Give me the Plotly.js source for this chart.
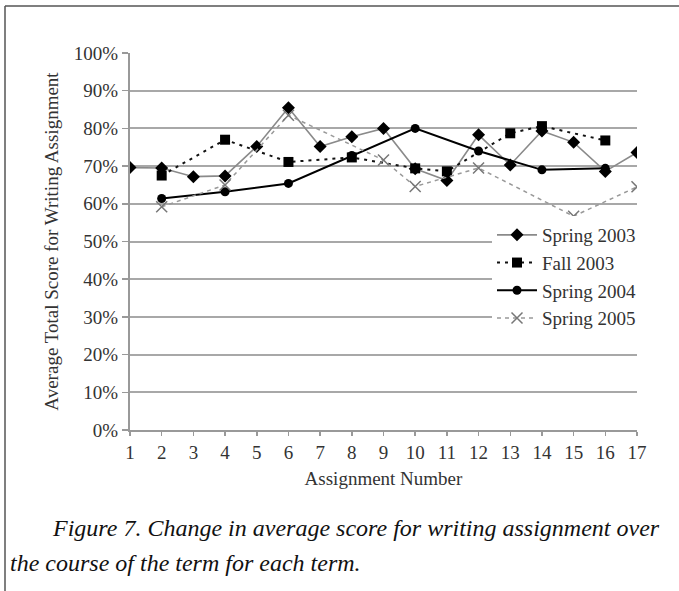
<!DOCTYPE html>
<html>
<head>
<meta charset="utf-8">
<script src="https://cdn.plot.ly/plotly-3.0.1.min.js"></script>
<style>
html,body{margin:0;padding:0;background:#fff;}
#chart{width:679px;height:591px;}
</style>
</head>
<body>
<div id="chart"></div>
<script>
// Data
const assignments = [1,2,3,4,5,6,7,8,9,10,11,12,13,14,15,16,17];
const spring2003 = [0.696,0.695,0.672,0.674,0.752,0.855,0.752,0.778,0.800,0.693,0.662,0.783,0.703,0.793,0.763,0.686,0.736];
const fall2003   = [null,0.675,null,0.770,null,0.711,null,0.723,null,0.694,0.686,null,0.787,0.806,null,0.768,null];
const spring2004 = [null,0.614,null,0.632,null,0.654,null,0.728,null,0.800,null,0.740,null,0.690,null,0.694,null];
const spring2005 = [null,0.592,null,0.650,null,0.835,null,null,0.716,0.646,null,0.695,null,null,0.567,null,0.645];
const seriesNames = ["Spring 2003","Fall 2003","Spring 2004","Spring 2005"];
const yTickVals = [0,0.1,0.2,0.3,0.4,0.5,0.6,0.7,0.8,0.9,1.0];
const yTickText = ["0%","10%","20%","30%","40%","50%","60%","70%","80%","90%","100%"];
const captionLine1 = "Figure 7. Change in average score for writing assignment over";
const captionLine2 = "the course of the term for each term.";

const W = 679, H = 591;
const M = {l:130, r:42, t:53, b:161};
const pw = W - M.l - M.r, ph = H - M.t - M.b;
const px = x => (x - M.l) / pw;
const py = y => (H - M.b - y) / ph;

const serif = "Liberation Serif, Times New Roman, serif";

const traces = [
  {x: assignments, y: spring2003, name: seriesNames[0], mode: "lines+markers", connectgaps: true,
   line: {color: "#8a8a8a", width: 1.6},
   marker: {symbol: "diamond", size: 10, color: "#000"}},
  {x: assignments, y: fall2003, name: seriesNames[1], mode: "lines+markers", connectgaps: true,
   line: {color: "#111", width: 2, dash: "3px,5px"},
   marker: {symbol: "square", size: 10, color: "#000"}},
  {x: assignments, y: spring2004, name: seriesNames[2], mode: "lines+markers", connectgaps: true,
   line: {color: "#000", width: 2},
   marker: {symbol: "circle", size: 9, color: "#000"}},
  {x: assignments, y: spring2005, name: seriesNames[3], mode: "lines+markers", connectgaps: true,
   line: {color: "#999", width: 1.5, dash: "4px,4px"},
   marker: {symbol: "x-thin-open", size: 11, color: "#777", line: {width: 1.5, color: "#777"}}}
];

const layout = {
  width: W, height: H,
  margin: M,
  paper_bgcolor: "#fff", plot_bgcolor: "#fff",
  font: {family: serif, size: 19, color: "#333"},
  showlegend: true,
  legend: {x: px(492), y: py(216), xanchor: "left", yanchor: "top",
           bgcolor: "#fff", borderwidth: 0, font: {family: serif, size: 19, color: "#333"},
           tracegroupgap: 0, itemwidth: 40},
  xaxis: {range: [1, 17], tickvals: assignments, ticktext: assignments.map(String),
          showgrid: false, zeroline: false, showline: true, linecolor: "#999", linewidth: 2,
          ticks: "outside", ticklen: 4, tickcolor: "#999", tickwidth: 1.5,
          tickfont: {family: serif, size: 19, color: "#333"},
          title: {text: "Assignment Number", font: {family: serif, size: 19, color: "#333"}, standoff: 10}},
  yaxis: {range: [0, 1], tickvals: yTickVals, ticktext: yTickText,
          showgrid: true, gridcolor: "#a8a8a8", gridwidth: 2, zeroline: false,
          showline: true, linecolor: "#999", linewidth: 2,
          ticks: "outside", ticklen: 6, tickcolor: "#999", tickwidth: 1.5,
          tickfont: {family: serif, size: 19, color: "#333"},
          title: {text: "Average Total Score for Writing Assignment", font: {family: serif, size: 19, color: "#333"}, standoff: 10}},
  shapes: [
    {type: "line", xref: "paper", yref: "paper", x0: px(5), x1: px(679), y0: py(6), y1: py(6),
     line: {color: "#555", width: 1.5}},
    {type: "line", xref: "paper", yref: "paper", x0: px(5), x1: px(5), y0: py(6), y1: py(591),
     line: {color: "#555", width: 1.5}}
  ],
  annotations: [
    {xref: "paper", yref: "paper", x: px(50), y: py(528), xanchor: "left", yanchor: "middle",
     text: "<i>" + captionLine1 + "</i>", showarrow: false,
     font: {family: serif, size: 24, color: "#111"}},
    {xref: "paper", yref: "paper", x: px(8), y: py(563), xanchor: "left", yanchor: "middle",
     text: "<i>" + captionLine2 + "</i>", showarrow: false,
     font: {family: serif, size: 24, color: "#111"}}
  ]
};

Plotly.newPlot("chart", traces, layout, {staticPlot: true, displayModeBar: false});
</script>
</body>
</html>
